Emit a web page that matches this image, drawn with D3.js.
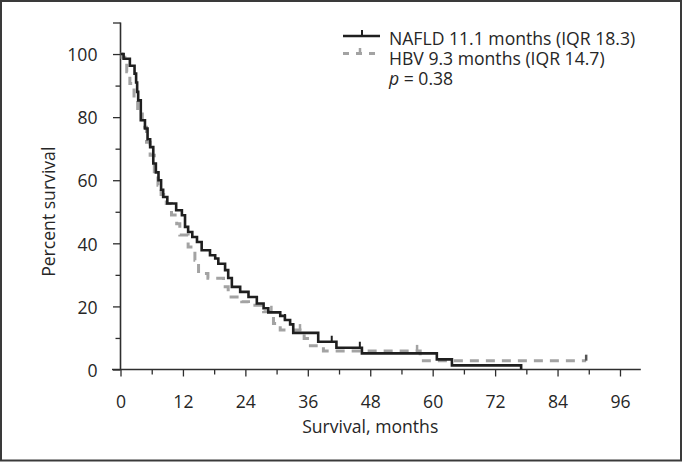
<!DOCTYPE html>
<html>
<head>
<meta charset="utf-8">
<script src="https://cdn.jsdelivr.net/npm/d3@7"></script>
<style>
  html, body { margin: 0; padding: 0; background: #fff; }
  svg { display: block; }
  text { font-family: "Open Sans", "DejaVu Sans", sans-serif; fill: #262626; }
</style>
</head>
<body>
<svg id="chart" width="683" height="462"></svg>
<script>
// ---- Data ----
const nafldTime = [0, 0.6, 1.8, 2.7, 3.0, 3.2, 3.4, 3.9, 4.7, 5.2, 5.7, 6.3, 6.8, 7.3, 7.8, 8.2, 9.0, 10.7, 11.8, 12.4, 13.0, 13.8, 14.7, 15.6, 17.2, 18.2, 18.8, 20.1, 20.7, 21.4, 23.0, 24.6, 26.2, 27.5, 28.4, 30.7, 31.6, 32.6, 33.2, 38.0, 41.5, 46.4, 60.8, 63.7, 77.0];
const nafldSurv = [100, 98.5, 96.3, 93.8, 91, 88, 85.3, 79, 76.4, 73, 70.5, 65.3, 62.5, 60, 57, 54.7, 52.6, 50.5, 48.9, 45.2, 43.6, 42, 40.4, 37.8, 36.2, 35.2, 33.5, 31.5, 29, 26.2, 24.6, 23, 20.9, 19.4, 18.1, 17, 15.7, 14.3, 11.6, 8.8, 6.9, 5.1, 3.2, 1.3, 0];
const nafldEnd = 77.0;
const nafldCensorT = [31.6, 40.6, 46.0];

const hbvTime = [0, 0.3, 1.2, 1.8, 2.6, 3.3, 4.2, 5.0, 5.7, 6.5, 7.2, 7.8, 8.3, 8.8, 9.8, 10.8, 11.4, 13.0, 14.3, 15.0, 16.8, 19.8, 20.7, 23.3, 24.6, 27.5, 29.4, 30.7, 35.3, 36.5, 39.0, 57.6];
const hbvSurv = [100, 99, 94.4, 90.7, 85.3, 81, 76.8, 72, 67.9, 62, 58.4, 55.5, 53.6, 52.6, 49, 46.2, 42.6, 38.8, 34.6, 30.4, 28.9, 26.2, 23, 21.5, 20.4, 18.3, 14.6, 12.5, 9.8, 7.5, 5.9, 2.8];
const hbvEnd = 89.5;
const hbvCensorT = [29.0, 34.5, 57.0, 89.5];

const xTicksMajor = [0, 12, 24, 36, 48, 60, 72, 84, 96];
const xTicksMinor = [6, 18, 30, 42, 54, 66, 78, 90];
const yTicksMajor = [0, 20, 40, 60, 80, 100, 110];
const yTicksMinor = [10, 30, 50, 70, 90];
const yTickLabels = ["0", "20", "40", "60", "80", "100", ""];

const legendLabels = ["NAFLD 11.1 months (IQR 18.3)", "HBV 9.3 months (IQR 14.7)"];
const pText = " = 0.38";
const xTitle = "Survival, months";
const yTitle = "Percent survival";

// ---- Drawing ----
const svg = d3.select("#chart");
const x = d3.scaleLinear().domain([0, 100]).range([120.5, 640.8]);
const y = d3.scaleLinear().domain([0, 110]).range([369.5, 22.5]);

const BLACK = "#1f1f1f", GRAY = "#a3a3a3", AXIS = "#2e2e2e";
const FS = 17.6;

// outer frame
svg.append("rect").attr("x", 1).attr("y", 1).attr("width", 680).attr("height", 459.5)
  .attr("fill", "none").attr("stroke", "#3a3a3a").attr("stroke-width", 2);

// x axis
const gx = svg.append("g").attr("transform", `translate(0,${y(0)})`);
gx.call(d3.axisBottom(x).tickValues(xTicksMajor).tickSize(7).tickSizeOuter(0).tickFormat(d3.format("d")));
gx.append("g").call(d3.axisBottom(x).tickValues(xTicksMinor).tickSize(5).tickSizeOuter(0).tickFormat(""))
  .select(".domain").remove();
gx.select(".domain").remove();
gx.append("line").attr("x1", x(0) - 8.5).attr("x2", x(100)).attr("y1", 0).attr("y2", 0)
  .attr("stroke", AXIS).attr("stroke-width", 1.6);
gx.selectAll(".tick line").attr("stroke", AXIS).attr("stroke-width", 1.3);
gx.selectAll(".tick text").attr("font-size", FS).attr("dy", null).attr("y", 38).style("font-family", "'Open Sans', sans-serif").attr("fill", "#262626");

// y axis
const gy = svg.append("g").attr("transform", `translate(${x(0)},0)`);
gy.call(d3.axisLeft(y).tickValues(yTicksMajor).tickSize(7.5).tickSizeOuter(0)
  .tickFormat((d, i) => yTickLabels[i]));
gy.append("g").call(d3.axisLeft(y).tickValues(yTicksMinor).tickSize(5).tickSizeOuter(0).tickFormat(""))
  .select(".domain").remove();
gy.select(".domain").remove();
gy.append("line").attr("x1", 0).attr("x2", 0).attr("y1", y(110)).attr("y2", y(0))
  .attr("stroke", AXIS).attr("stroke-width", 1.6);
gy.selectAll(".tick line").attr("stroke", AXIS).attr("stroke-width", 1.3);
gy.selectAll(".tick text").attr("font-size", FS).attr("x", -23).attr("dy", "0.38em").style("font-family", "'Open Sans', sans-serif").attr("fill", "#262626");

// axis titles
svg.append("text").attr("x", x(48)).attr("y", 433).attr("text-anchor", "middle")
  .attr("font-size", FS).text(xTitle);
svg.append("text").attr("transform", `translate(55,${y(50)}) rotate(-90)`).attr("text-anchor", "middle")
  .attr("font-size", FS).text(yTitle);

// step function helper
function stepPoints(times, surv, end) {
  const pts = times.map((t, i) => [t, surv[i]]);
  if (end > times[times.length - 1]) pts.push([end, surv[surv.length - 1]]);
  return pts;
}
function survAt(times, surv, t) {
  let s = surv[0];
  for (let i = 0; i < times.length; i++) if (times[i] <= t) s = surv[i];
  return s;
}
const line = d3.line().x(d => x(d[0])).y(d => y(d[1])).curve(d3.curveStepAfter);

// HBV (gray dashed)
svg.append("path").datum(stepPoints(hbvTime, hbvSurv, hbvEnd)).attr("d", line)
  .attr("fill", "none").attr("stroke", GRAY).attr("stroke-width", 3)
  .attr("stroke-dasharray", "9,7");
svg.append("g").selectAll("line").data(hbvCensorT).join("line")
  .attr("x1", d => x(d)).attr("x2", d => x(d))
  .attr("y1", d => y(survAt(hbvTime, hbvSurv, d)) - 6).attr("y2", d => y(survAt(hbvTime, hbvSurv, d)))
  .attr("stroke", d => d === hbvEnd ? "#555" : GRAY).attr("stroke-width", 2.5);

// NAFLD (black solid)
svg.append("path").datum(stepPoints(nafldTime, nafldSurv, nafldEnd)).attr("d", line)
  .attr("fill", "none").attr("stroke", BLACK).attr("stroke-width", 2.6);
svg.append("g").selectAll("line").data(nafldCensorT).join("line")
  .attr("x1", d => x(d)).attr("x2", d => x(d))
  .attr("y1", d => y(survAt(nafldTime, nafldSurv, d)) - 6).attr("y2", d => y(survAt(nafldTime, nafldSurv, d)))
  .attr("stroke", BLACK).attr("stroke-width", 2);

// legend
const lg = svg.append("g");
lg.append("line").attr("x1", 343).attr("x2", 380).attr("y1", 36).attr("y2", 36)
  .attr("stroke", BLACK).attr("stroke-width", 2.6);
lg.append("line").attr("x1", 362).attr("x2", 362).attr("y1", 30).attr("y2", 36)
  .attr("stroke", BLACK).attr("stroke-width", 2);
lg.append("line").attr("x1", 343).attr("x2", 380).attr("y1", 53.5).attr("y2", 53.5)
  .attr("stroke", GRAY).attr("stroke-width", 3).attr("stroke-dasharray", "6,7");
lg.append("line").attr("x1", 360).attr("x2", 360).attr("y1", 48).attr("y2", 53.5)
  .attr("stroke", GRAY).attr("stroke-width", 2.5);
lg.append("text").attr("x", 389).attr("y", 44.5).attr("font-size", FS).text(legendLabels[0]);
lg.append("text").attr("x", 389).attr("y", 64.5).attr("font-size", FS).text(legendLabels[1]);
const pt = lg.append("text").attr("x", 389).attr("y", 85).attr("font-size", FS);
pt.append("tspan").attr("font-style", "italic").text("p");
pt.append("tspan").text(pText);
</script>
</body>
</html>
